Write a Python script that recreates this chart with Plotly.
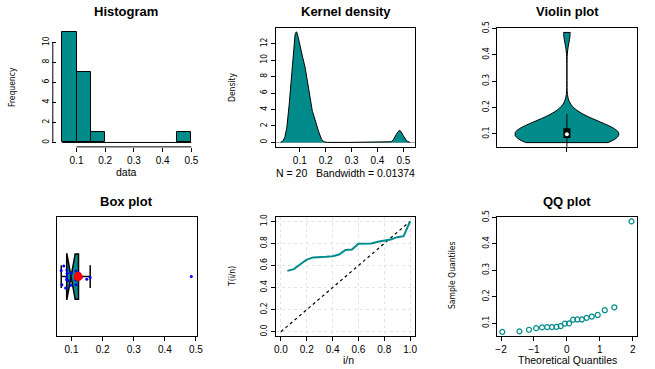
import numpy as np
import plotly.graph_objects as go
from statistics import NormalDist

# sample (sorted)
values = [0.067, 0.069, 0.075, 0.081, 0.084, 0.085, 0.085, 0.086, 0.089, 0.098,
          0.099, 0.113, 0.114, 0.114, 0.120, 0.125, 0.131, 0.149, 0.160, 0.485]
hist_breaks = [0.05, 0.50, 0.05]   # start, end, size
bandwidth = 0.01374
x_ticks = [0.1, 0.2, 0.3, 0.4, 0.5]
unit_ticks = [0.0, 0.2, 0.4, 0.6, 0.8, 1.0]
diag = [0, 1]

TEAL = '#008b8b'
FONT = 'Liberation Sans'
NARROW = 'Liberation Sans Narrow, DejaVu Sans Condensed, Liberation Sans'

x = np.array(values)
n = len(x)

# kernel density (gaussian, cut = 3)
grid = np.linspace(x.min() - 3 * bandwidth, x.max() + 3 * bandwidth, 512)
dens = np.exp(-0.5 * ((grid[:, None] - x[None, :]) / bandwidth) ** 2).sum(1) / (n * bandwidth * np.sqrt(2 * np.pi))

# total time on test
xs = np.sort(x)
i = np.arange(1, n + 1)
ttt = (np.cumsum(xs) + (n - i) * xs) / xs.sum()

# normal quantiles
theo = [NormalDist().inv_cdf((k - 0.5) / n) for k in i]

q1, med, q3 = np.percentile(x, [25, 50, 75])
iqr = q3 - q1

fig = go.Figure()

# histogram
fig.add_trace(go.Histogram(x=values, xbins=dict(start=hist_breaks[0], end=hist_breaks[1], size=hist_breaks[2]),
                           marker=dict(color=TEAL, line=dict(color='black', width=1)),
                           xaxis='x', yaxis='y'))

# density
fig.add_trace(go.Scatter(x=grid, y=dens, mode='lines', fill='tozeroy', fillcolor=TEAL,
                         line=dict(color='black', width=1), xaxis='x2', yaxis='y2'))

# violin
fig.add_trace(go.Violin(y=values, x0=1, width=0.74, bandwidth=0.04, spanmode='hard',
                        fillcolor=TEAL, line=dict(color='black', width=1), points=False,
                        xaxis='x3', yaxis='y3'))
fig.add_trace(go.Scatter(x=[1, 1], y=[q1 - 1.5 * iqr, q3 + 1.5 * iqr], mode='lines',
                         line=dict(color='black', width=1), xaxis='x3', yaxis='y3'))
fig.add_trace(go.Scatter(x=[1, 1], y=[q1, q3], mode='lines',
                         line=dict(color='black', width=7), xaxis='x3', yaxis='y3'))
fig.add_trace(go.Scatter(x=[1], y=[med], mode='markers',
                         marker=dict(color='white', size=4, line=dict(width=0)), xaxis='x3', yaxis='y3'))

# box plot
fig.add_trace(go.Box(x=values, y0=1, orientation='h', notched=True, notchwidth=0.5, width=0.38,
                     fillcolor=TEAL, line=dict(color='black', width=1.5),
                     boxpoints='all', pointpos=0, jitter=0.6,
                     marker=dict(color='blue', size=3), xaxis='x4', yaxis='y4'))
fig.add_trace(go.Scatter(x=[x.mean()], y=[1], mode='markers',
                         marker=dict(color='red', size=9), xaxis='x4', yaxis='y4'))

# TTT
fig.add_trace(go.Scatter(x=diag, y=diag, mode='lines', line=dict(color='black', width=1.2, dash='dot'),
                         xaxis='x5', yaxis='y5'))
fig.add_trace(go.Scatter(x=i / n, y=ttt, mode='lines', line=dict(color=TEAL, width=2),
                         xaxis='x5', yaxis='y5'))

# QQ
fig.add_trace(go.Scatter(x=theo, y=xs, mode='markers',
                         marker=dict(symbol='circle-open', color=TEAL, size=5, line=dict(width=1.2)),
                         xaxis='x6', yaxis='y6'))

cols = [[0.087, 0.300], [0.421, 0.634], [0.759, 0.972]]
rows = [[0.602, 0.924], [0.089, 0.412]]

base = dict(showgrid=False, zeroline=False, ticks='outside', ticklen=4, tickcolor='black',
            showline=True, linecolor='black', linewidth=1, mirror=True, automargin=False)

lay = {}
ranges = [
    ([0.032, 0.518], [-0.44, 11.44]),
    ([0.007, 0.546], [-0.54, 13.9]),
    ([0.5, 1.5], [0.0508, 0.5017]),
    ([0.0533, 0.5017], [0.5, 1.5]),
    ([-0.04, 1.04], [-0.04, 1.04]),
    ([-2.117, 2.117], [0.0508, 0.5017]),
]
for k in range(6):
    r, c = divmod(k, 3)
    xa = dict(base, domain=cols[c], range=ranges[k][0], anchor='y%d' % (k + 1) if k else 'y',
              tickfont=dict(family=FONT, size=10, color='black'))
    ya = dict(base, domain=rows[r], range=ranges[k][1], anchor='x%d' % (k + 1) if k else 'x', tickangle=-90,
              tickfont=dict(family=NARROW, size=8.5, color='black'))
    lay['xaxis' if k == 0 else 'xaxis%d' % (k + 1)] = xa
    lay['yaxis' if k == 0 else 'yaxis%d' % (k + 1)] = ya

lay['xaxis'].update(showline=False, tickvals=x_ticks)
lay['yaxis'].update(showline=False, tickvals=[0, 2, 4, 6, 8, 10])
lay['xaxis2'].update(tickvals=x_ticks)
lay['yaxis2'].update(tickvals=[0, 2, 4, 6, 8, 10, 12], zeroline=True, zerolinecolor='#aaaaaa', zerolinewidth=1)
lay['xaxis3'].update(tickvals=[1], ticktext=[''], type='linear')
lay['yaxis3'].update(tickvals=x_ticks)
lay['xaxis4'].update(tickvals=x_ticks)
lay['yaxis4'].update(showticklabels=False, ticks='', type='linear')
lay['xaxis5'].update(tickvals=unit_ticks, tickformat='.1f', showgrid=True, gridcolor='#e4e4e4', griddash='dot')
lay['yaxis5'].update(tickvals=unit_ticks, tickformat='.1f', showgrid=True, gridcolor='#e4e4e4', griddash='dot')
lay['xaxis6'].update(tickvals=[-2, -1, 0, 1, 2])
lay['yaxis6'].update(tickvals=x_ticks)

fig.update_layout(**lay)

# histogram axis lines (R style, tick to tick)
fig.add_shape(type='line', xref='x', yref='y domain', x0=x_ticks[0], x1=x_ticks[-1], y0=0, y1=0,
              line=dict(color='black', width=1))
fig.add_shape(type='line', xref='x domain', yref='y', x0=-0.03, x1=-0.03, y0=0, y1=10,
              line=dict(color='black', width=1))
fig.add_shape(type='line', xref='x', yref='y', x0=hist_breaks[0], x1=hist_breaks[1], y0=0, y1=0,
              line=dict(color='black', width=1))

W, H = 655, 369


def note(text, px, py, size=10.5, bold=False, angle=0, family=FONT):
    fig.add_annotation(text='<b>%s</b>' % text if bold else text, x=px / W, y=1 - py / H,
                       xref='paper', yref='paper', showarrow=False, textangle=angle,
                       xanchor='center', yanchor='middle',
                       font=dict(family=family, size=size, color='black'))


note('Histogram', 126, 12, 13, True)
note('Kernel density', 346, 12, 13, True)
note('Violin plot', 567, 12, 13, True)
note('Box plot', 126, 201, 13, True)
note('QQ plot', 567, 201, 13, True)
note('data', 126, 172)
note('N = 20   Bandwidth = 0.01374', 346, 173)
note('i/n', 348, 360)
note('Theoretical Quantiles', 567, 360)
note('Frequency', 12, 87, 8.5, angle=-90, family=NARROW)
note('Density', 232, 87, 8.5, angle=-90, family=NARROW)
note('T(i/n)', 232, 277, 8.5, angle=-90, family=NARROW)
note('Sample Quantiles', 452, 275, 8.5, angle=-90, family=NARROW)

fig.update_layout(width=W, height=H, margin=dict(l=0, r=0, t=0, b=0), showlegend=False,
                  plot_bgcolor='white', paper_bgcolor='white', bargap=0)

fig.write_html('out.html', config={'displayModeBar': False},
               post_script="document.body.style.margin='0';")
